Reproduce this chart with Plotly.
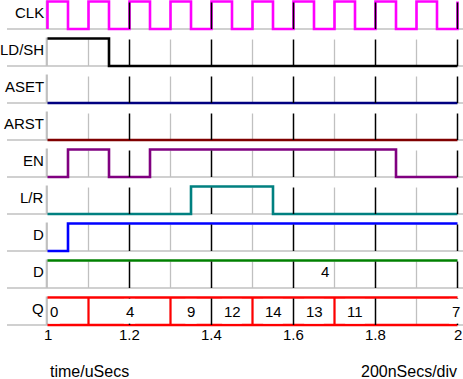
import plotly.graph_objects as go

# ---------------- data ----------------
row_names = ["CLK", "LD/SH", "ASET", "ARST", "EN", "L/R", "D", "D", "Q"]
row_colors = ["#FF00FF", "#000000", "#000080", "#800000", "#800080",
              "#008080", "#0000FF", "#008000", "#FF0000"]

clk_times = [1.0, 1.0, 1.05, 1.1, 1.15, 1.2, 1.25, 1.3, 1.35, 1.4, 1.45, 1.5,
             1.55, 1.6, 1.65, 1.7, 1.75, 1.8, 1.85, 1.9, 1.95, 2.0]
clk_vals = [0, 1, 0, 1, 0, 1, 0, 1, 0, 1, 0, 1, 0, 1, 0, 1, 0, 1, 0, 1, 0, 1]

ldsh_times = [1.0, 1.15, 2.0]
ldsh_vals = [1, 0, 0]

aset_times = [1.0, 2.0]
aset_vals = [0, 0]

arst_times = [1.0, 2.0]
arst_vals = [0, 0]

en_times = [1.0, 1.05, 1.15, 1.25, 1.85, 2.0]
en_vals = [0, 1, 0, 1, 0, 0]

lr_times = [1.0, 1.35, 1.55, 2.0]
lr_vals = [0, 1, 0, 0]

d_times = [1.0, 1.05, 2.0]
d_vals = [0, 1, 1]

dbus_times = [1.0, 2.0]
dbus_value = "4"
dbus_label_t = 1.676

q_times = [1.0, 1.1, 1.3, 1.4, 1.5, 1.6, 1.7, 1.8, 2.0]
q_values = ["0", "4", "9", "12", "14", "13", "11", "7"]

minor_ticks = [1.1, 1.3, 1.5, 1.7, 1.9]
major_ticks = [1.2, 1.4, 1.6, 1.8, 2.0]
tick_vals = [1.0, 1.2, 1.4, 1.6, 1.8, 2.0]
tick_text = ["1", "1.2", "1.4", "1.6", "1.8", "2"]

x_title = "time/uSecs"
scale_text = "200nSecs/div"

# ---------------- layout geometry ----------------
W, H = 463, 379
PX_PER_US = 410.0
X0_PX = 47.5
ROW_PITCH = 37
FIRST_BOTTOM = 29
LEVEL = 27.5
SIG_W = 2.6
BUS_W = 2.4
FONT = "Liberation Sans, Arial, sans-serif"
FS = 15
DIGIT_PX = 0.556 * FS
GRID_GRAY = "#C0C0C0"


def px_to_t(px):
    return 1.0 + (px - X0_PX) / PX_PER_US


def t_to_px(t):
    return X0_PX + (t - 1.0) * PX_PER_US


def bottom(i):
    return FIRST_BOTTOM + ROW_PITCH * i


def ylev(i, v):
    return bottom(i) - v * LEVEL


fig = go.Figure()
shapes = []
annotations = []

n_rows = len(row_names)
for i in range(n_rows):
    b = bottom(i)
    top = ylev(i, 1)
    # baseline
    shapes.append(dict(type="line", xref="paper", yref="y",
                       x0=7 / W, x1=1, y0=b, y1=b,
                       line=dict(color=GRID_GRAY, width=1.5), layer="below"))
    # left edge
    shapes.append(dict(type="line", xref="x", yref="y",
                       x0=px_to_t(46.8), x1=px_to_t(46.8), y0=top - 1, y1=b,
                       line=dict(color=GRID_GRAY, width=2.2), layer="below"))
    for t in minor_ticks:
        shapes.append(dict(type="line", xref="x", yref="y", x0=t, x1=t,
                           y0=top + 1, y1=b,
                           line=dict(color=GRID_GRAY, width=1.3), layer="below"))
    for t in major_ticks:
        shapes.append(dict(type="line", xref="x", yref="y", x0=t, x1=t,
                           y0=top + 1, y1=b,
                           line=dict(color="#000000", width=1.5), layer="above"))
    annotations.append(dict(x=px_to_t(46), y=b - 17, xref="x", yref="y",
                            text=row_names[i], showarrow=False,
                            xanchor="right", yanchor="middle",
                            font=dict(family=FONT, size=FS, color="#000000")))

digital = [
    (0, clk_times, clk_vals),
    (1, ldsh_times, ldsh_vals),
    (2, aset_times, aset_vals),
    (3, arst_times, arst_vals),
    (4, en_times, en_vals),
    (5, lr_times, lr_vals),
    (6, d_times, d_vals),
]
for i, ts, vs in digital:
    fig.add_trace(go.Scatter(x=ts, y=[ylev(i, v) for v in vs], mode="lines",
                             line=dict(color=row_colors[i], width=SIG_W, shape="hv"),
                             hoverinfo="skip", showlegend=False))

# D bus (single value)
fig.add_trace(go.Scatter(x=dbus_times, y=[ylev(7, 1)] * len(dbus_times), mode="lines",
                         line=dict(color=row_colors[7], width=SIG_W),
                         hoverinfo="skip", showlegend=False))
annotations.append(dict(x=dbus_label_t, y=bottom(7) - 17, xref="x", yref="y",
                        text=dbus_value, showarrow=False, xanchor="center",
                        yanchor="middle",
                        font=dict(family=FONT, size=FS, color="#000000")))

# Q bus
qi = 8
for lev in (0, 1):
    fig.add_trace(go.Scatter(x=[q_times[0], q_times[-1]], y=[ylev(qi, lev)] * 2,
                             mode="lines", line=dict(color=row_colors[qi], width=BUS_W),
                             hoverinfo="skip", showlegend=False))
major_set = {round(t, 3) for t in major_ticks}
for t in q_times[1:-1]:
    if round(t, 3) in major_set:
        continue
    fig.add_trace(go.Scatter(x=[t, t], y=[ylev(qi, 0), ylev(qi, 1)], mode="lines",
                             line=dict(color=row_colors[qi], width=2.2),
                             hoverinfo="skip", showlegend=False))

# white label backgrounds inside the bus (they hide grid lines behind the text)
inner_top = ylev(qi, 1) + BUS_W / 2 + 0.2
inner_bot = ylev(qi, 0) - BUS_W / 2 - 0.2
nseg = len(q_values)
for k, val in enumerate(q_values):
    t0, t1 = q_times[k], q_times[k + 1]
    wpx = len(val) * DIGIT_PX + 3
    if k == 0:
        xpx, anchor = 48.5, "left"
        left, right = xpx, xpx + wpx
    elif k == nseg - 1:
        xpx, anchor = 460.5, "right"
        left, right = xpx - wpx, xpx + 2
    else:
        xpx, anchor = t_to_px((t0 + t1) / 2), "center"
        left, right = xpx - wpx / 2, xpx + wpx / 2
    shapes.append(dict(type="rect", xref="x", yref="y",
                       x0=px_to_t(left), x1=px_to_t(right),
                       y0=inner_top, y1=inner_bot, fillcolor="#FFFFFF",
                       line=dict(width=0), layer="above"))
    annotations.append(dict(x=px_to_t(xpx), y=(inner_top + inner_bot) / 2,
                            xref="x", yref="y", text=val, showarrow=False,
                            xanchor=anchor, yanchor="middle", borderpad=0,
                            font=dict(family=FONT, size=FS, color="#000000")))

# tick labels
for tv, tt in zip(tick_vals, tick_text):
    annotations.append(dict(x=tv, y=bottom(qi) + 9.5, xref="x", yref="y",
                            text=tt, showarrow=False, xanchor="center",
                            yanchor="middle",
                            font=dict(family=FONT, size=FS, color="#000000")))

annotations.append(dict(x=px_to_t(47.5), y=371.5, xref="x", yref="y",
                        text=x_title, showarrow=False, xanchor="left",
                        yanchor="middle",
                        font=dict(family=FONT, size=16, color="#000000")))
annotations.append(dict(x=px_to_t(459), y=371.5, xref="x", yref="y",
                        text=scale_text, showarrow=False, xanchor="right",
                        yanchor="middle",
                        font=dict(family=FONT, size=16, color="#000000")))

fig.update_layout(
    width=W, height=H, autosize=False,
    margin=dict(l=0, r=0, t=0, b=0, pad=0),
    paper_bgcolor="#FFFFFF", plot_bgcolor="#FFFFFF",
    xaxis=dict(range=[px_to_t(0), px_to_t(W)], visible=False, fixedrange=True),
    yaxis=dict(range=[H, 0], visible=False, fixedrange=True),
    shapes=shapes, annotations=annotations, showlegend=False,
)

fig.write_html(
    "out.html",
    config={"displayModeBar": False},
    post_script="document.body.style.margin='0';document.body.style.padding='0';"
                "document.documentElement.style.overflow='hidden';",
)
